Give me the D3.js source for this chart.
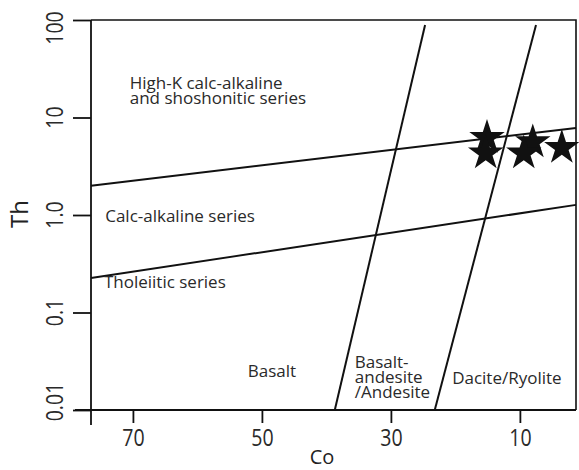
<!DOCTYPE html>
<html>
<head>
<meta charset="utf-8">
<script src="https://cdn.jsdelivr.net/npm/d3@7"></script>
<style>
  html, body { margin: 0; padding: 0; background: #fff; }
  svg { display: block; }
  .tick-label { font-family: "Open Sans", "Noto Sans", sans-serif; font-size: 23px; fill: #2a2a2a; }
  .field { font-family: "Open Sans", "Noto Sans", sans-serif; font-size: 17px; fill: #2a2a2a; }
  .axis-title { font-family: "Open Sans", "Noto Sans", sans-serif; fill: #222; }
</style>
</head>
<body>
<svg id="chart" width="579" height="470"></svg>
<script>
// Co (ppm) tick values on the reversed horizontal axis
const coTicks = [70, 50, 30, 10];
// Th (ppm) tick values on the log vertical axis and their printed labels
const thTicks = [100, 10, 1, 0.1, 0.01];
const thTickLabels = ["100", "10", "1.0", "0.1", "0.01"];

// Sample compositions plotted as stars
const sampleCo = [15.1, 15.3, 8.0, 9.4, 3.5];
const sampleTh = [6.2, 4.3, 5.6, 4.3, 4.9];

// Field boundaries as [Co, Th] end points
const highKBoundary = [[76.5, 2.0], [1.3, 7.8]];
const tholeiiticBoundary = [[76.5, 0.226], [1.3, 1.27]];
const basaltBoundary = [[38.7, 0.01], [24.7, 89]];
const andesiteBoundary = [[23.2, 0.01], [7.5, 89]];

// Field names with their anchor (Co, Th) in data units
const fieldNames = [
  { lines: ["High-K calc-alkaline", "and shoshonitic series"], co: 70.5, th: 19.6 },
  { lines: ["Calc-alkaline series"], co: 74.3, th: 0.847 },
  { lines: ["Tholeiitic series"], co: 74.5, th: 0.18 },
  { lines: ["Basalt"], co: 52.2, th: 0.0218 },
  { lines: ["Basalt-", "andesite", "/Andesite"], co: 35.6, th: 0.027 },
  { lines: ["Dacite/Ryolite"], co: 20.5, th: 0.0185 }
];

const svg = d3.select("#chart");
const plotLeft = 91, plotRight = 576, plotTop = 20, plotBottom = 410;
const narrow = 0.85; // horizontal squeeze of the tick numerals

const x = d3.scaleLinear().domain([76.5, 1.3]).range([plotLeft, plotRight]);
const y = d3.scaleLog().domain([0.01, 100]).range([plotBottom, plotTop]);

// frame: top and right edges
svg.append("path")
  .attr("d", `M${plotLeft},${plotTop}H${plotRight}V${plotBottom}`)
  .attr("fill", "none").attr("stroke", "#111").attr("stroke-width", 1.6);

// vertical and horizontal axis lines, overshooting the corner
svg.append("line").attr("x1", plotLeft).attr("x2", plotLeft).attr("y1", plotTop).attr("y2", plotBottom + 15)
  .attr("stroke", "#111").attr("stroke-width", 1.8);
svg.append("line").attr("x1", plotLeft - 16).attr("x2", plotRight).attr("y1", plotBottom).attr("y2", plotBottom)
  .attr("stroke", "#111").attr("stroke-width", 1.8);

// bottom axis ticks and labels
const xAxis = svg.append("g").attr("transform", `translate(0,${plotBottom})`)
  .call(d3.axisBottom(x).tickValues(coTicks).tickSize(13).tickSizeOuter(0).tickPadding(7));
xAxis.select(".domain").remove();
xAxis.selectAll(".tick line").attr("stroke", "#111").attr("stroke-width", 1.8);
xAxis.attr("font-size", null).attr("font-family", null);
xAxis.selectAll(".tick text").attr("class", "tick-label").attr("fill", null)
  .attr("transform", `scale(${narrow},1)`);

// left axis ticks; labels are drawn rotated below
const yAxis = svg.append("g").attr("transform", `translate(${plotLeft},0)`)
  .call(d3.axisLeft(y).tickValues(thTicks).tickSize(18).tickSizeOuter(0).tickFormat(""));
yAxis.select(".domain").remove();
yAxis.selectAll(".tick line").attr("stroke", "#111").attr("stroke-width", 1.8);

svg.append("g").selectAll("text")
  .data(thTicks)
  .join("text")
  .attr("class", "tick-label")
  .attr("text-anchor", "middle")
  .attr("transform", d => {
    const ty = Math.min(Math.max(y(d), plotTop + 8), plotBottom - 8);
    return `translate(63,${ty}) rotate(-90) scale(${narrow},1)`;
  })
  .text((d, i) => thTickLabels[i]);

// axis titles
svg.append("text").attr("class", "axis-title")
  .attr("font-size", 20)
  .attr("text-anchor", "middle")
  .attr("x", 322).attr("y", 464)
  .text("Co");
svg.append("text").attr("class", "axis-title")
  .attr("font-size", 24)
  .attr("text-anchor", "middle")
  .attr("transform", `translate(28,214) rotate(-90)`)
  .text("Th");

// field boundaries
const line = d3.line().x(d => x(d[0])).y(d => y(d[1]));
svg.append("g").selectAll("path")
  .data([highKBoundary, tholeiiticBoundary, basaltBoundary, andesiteBoundary])
  .join("path")
  .attr("d", line)
  .attr("fill", "none").attr("stroke", "#111").attr("stroke-width", 2);

// field names
const names = svg.append("g").selectAll("text")
  .data(fieldNames)
  .join("text")
  .attr("class", "field")
  .attr("x", d => x(d.co))
  .attr("y", d => y(d.th));
names.selectAll("tspan")
  .data(d => d.lines.map(t => ({ t, x: x(d.co) })))
  .join("tspan")
  .attr("x", d => d.x)
  .attr("dy", (d, i) => i === 0 ? 0 : 15)
  .text(d => d.t);

// samples
const star = d3.symbol().type(d3.symbolStar).size(390);
svg.append("g").selectAll("path")
  .data(sampleCo.map((c, i) => [c, sampleTh[i]]))
  .join("path")
  .attr("transform", d => `translate(${x(d[0])},${y(d[1])})`)
  .attr("d", star)
  .attr("fill", "#111");
</script>
</body>
</html>
